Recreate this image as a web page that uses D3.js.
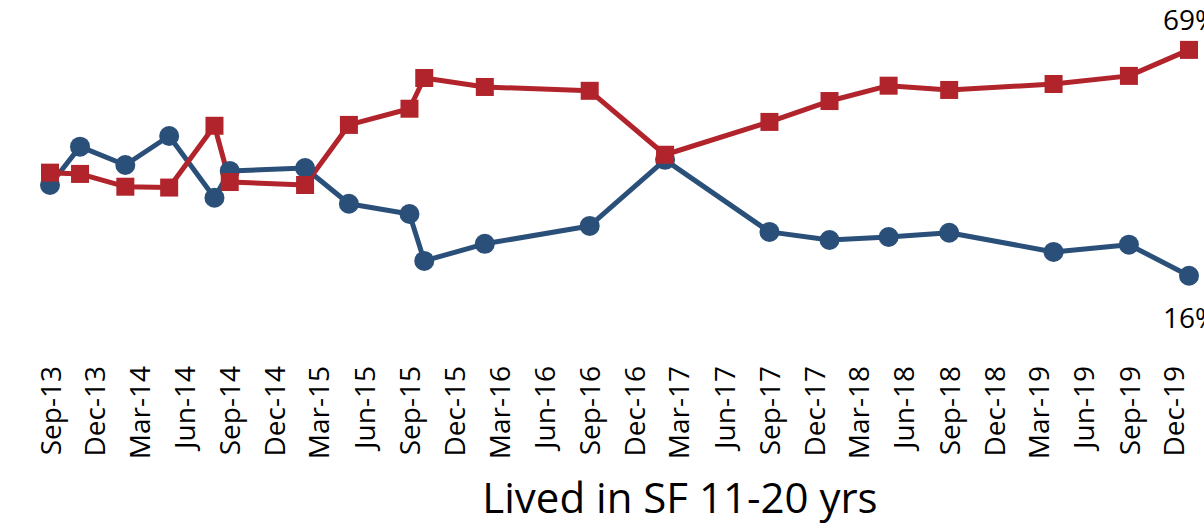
<!DOCTYPE html>
<html>
<head>
<meta charset="utf-8">
<script src="https://cdn.jsdelivr.net/npm/d3@7"></script>
<style>
  body { margin: 0; background: #fff; }
  svg { display: block; }
  text { font-family: "Open Sans", sans-serif; fill: #000; }
</style>
</head>
<body>
<svg id="chart"></svg>
<script>
//------------------------------------------------------------
// Data
const dates = [
  "2013-09", "2013-11", "2014-02", "2014-05", "2014-08", "2014-09",
  "2015-02", "2015-05", "2015-09", "2015-10", "2016-02", "2016-09",
  "2017-02", "2017-09", "2018-01", "2018-05", "2018-09", "2019-04",
  "2019-09", "2020-01"
];
const redValues = [
  40.2, 39.9, 36.9, 36.7, 51.2, 38.0,
  37.3, 51.4, 55.2, 62.4, 60.3, 59.4,
  44.4, 52.1, 57.0, 60.6, 59.6, 61.0,
  62.9, 69
];
const blueValues = [
  37.3, 46.3, 42.0, 48.8, 34.3, 40.6,
  41.3, 32.9, 30.5, 19.5, 23.5, 27.7,
  43.2, 26.3, 24.4, 25.1, 26.1, 21.6,
  23.3, 16
];
const tickLabels = [
  "Sep-13", "Dec-13", "Mar-14", "Jun-14", "Sep-14", "Dec-14", "Mar-15",
  "Jun-15", "Sep-15", "Dec-15", "Mar-16", "Jun-16", "Sep-16", "Dec-16",
  "Mar-17", "Jun-17", "Sep-17", "Dec-17", "Mar-18", "Jun-18", "Sep-18",
  "Dec-18", "Mar-19", "Jun-19", "Sep-19", "Dec-19"
];
const title = "Lived in SF 11-20 yrs";

//------------------------------------------------------------
// Setup
const W = 1204, H = 526;
const RED = "#b2242b", BLUE = "#2a5079";
const parseMonth = d3.utcParse("%Y-%m");
const parseTick = d3.utcParse("%b-%y");

const svg = d3.select("#chart").attr("width", W).attr("height", H);

const x = d3.scaleUtc()
  .domain([parseMonth("2013-09"), parseMonth("2020-01")])
  .range([50, 1189]);
const y = d3.scaleLinear().domain([0, 80]).range([344, 3]);

const red = dates.map((d, i) => ({ date: parseMonth(d), value: redValues[i] }));
const blue = dates.map((d, i) => ({ date: parseMonth(d), value: blueValues[i] }));

//------------------------------------------------------------
// Axis (labels only, no line)
const ticks = tickLabels.map(parseTick);
const xAxis = svg.append("g")
  .attr("transform", "translate(0,344)")
  .call(d3.axisBottom(x).tickValues(ticks).tickFormat(d3.utcFormat("%b-%y")).tickSize(0));
xAxis.select(".domain").remove();
xAxis.selectAll("text")
  .attr("transform", "rotate(-90)")
  .attr("x", -22)
  .attr("y", 0)
  .attr("dy", "0.36em")
  .style("text-anchor", "end")
  .style("font-family", "'Open Sans', sans-serif")
  .style("font-size", "28px")
  .attr("fill", "#000");

//------------------------------------------------------------
// Lines
const line = d3.line().x(d => x(d.date)).y(d => y(d.value));

svg.append("path").datum(blue)
  .attr("fill", "none").attr("stroke", BLUE).attr("stroke-width", 5)
  .attr("stroke-linejoin", "round").attr("d", line);
svg.append("path").datum(red)
  .attr("fill", "none").attr("stroke", RED).attr("stroke-width", 5)
  .attr("stroke-linejoin", "round").attr("d", line);

// Markers
svg.selectAll(".dot").data(blue).join("circle")
  .attr("class", "dot")
  .attr("cx", d => x(d.date)).attr("cy", d => y(d.value))
  .attr("r", 10).attr("fill", BLUE);

const s = 18;
svg.selectAll(".sq").data(red).join("rect")
  .attr("class", "sq")
  .attr("x", d => x(d.date) - s / 2).attr("y", d => y(d.value) - s / 2)
  .attr("width", s).attr("height", s).attr("fill", RED);

//------------------------------------------------------------
// End labels
const lastRed = red[red.length - 1], lastBlue = blue[blue.length - 1];
svg.append("text")
  .attr("x", x(lastRed.date) - 26).attr("y", y(lastRed.value) - 20)
  .style("font-size", "28px")
  .text(lastRed.value + "%");
svg.append("text")
  .attr("x", x(lastBlue.date) - 26).attr("y", y(lastBlue.value) + 52)
  .style("font-size", "28px")
  .text(lastBlue.value + "%");

// Title
svg.append("text")
  .attr("x", 680).attr("y", 513)
  .attr("text-anchor", "middle")
  .style("font-size", "42px")
  .text(title);
</script>
</body>
</html>
